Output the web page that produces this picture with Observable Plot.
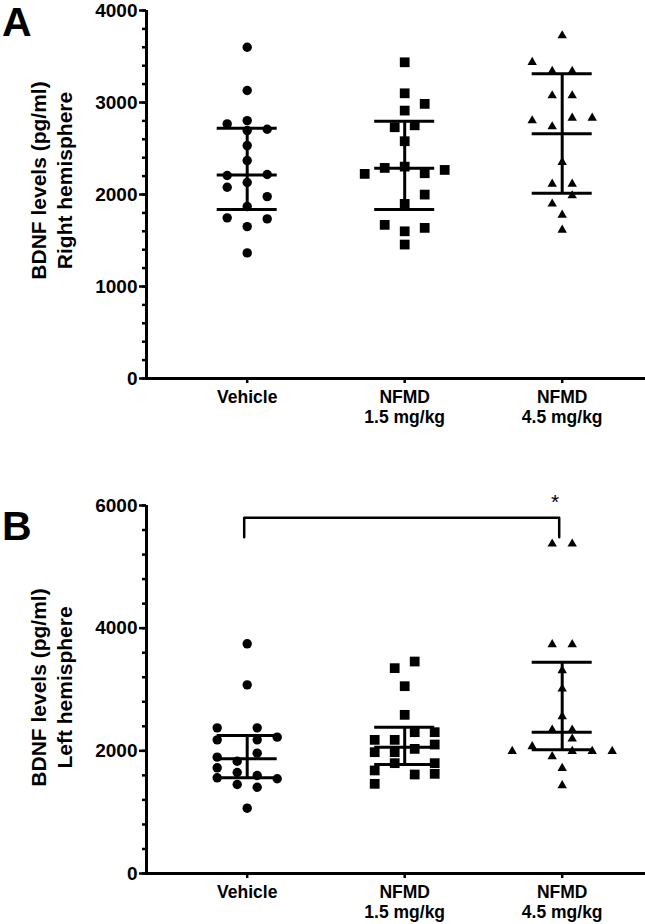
<!DOCTYPE html>
<html>
<head>
<meta charset="utf-8">
<script src="https://cdn.jsdelivr.net/npm/d3@7"></script>
<script src="https://cdn.jsdelivr.net/npm/@observablehq/plot@0.6"></script>
<style>
  body { margin: 0; background: #fff; }
  #wrap { position: relative; width: 645px; height: 924px; }
  .letter { position: absolute; left: 2px; font: bold 41px "Liberation Sans", Arial, sans-serif; line-height: 40px; color: #000; }
  #a, #b { display: block; }
  svg { display: block; }
</style>
</head>
<body>
<div id="wrap">
  <div id="a"></div>
  <div id="b"></div>
  <div class="letter" style="top:2px">A</div>
  <div class="letter" style="top:506px">B</div>
</div>
<script>
// ---------- categories / labels ----------
const groups = ["Vehicle", "NFMD 1.5 mg/kg", "NFMD 4.5 mg/kg"];
const groupLabels = ["Vehicle", "NFMD\n1.5 mg/kg", "NFMD\n4.5 mg/kg"];
const groupSymbols = ["circle", "square", "triangle"];

// ---------- Panel A: right hemisphere (pg/ml) ----------
const rightVehicle = [3600, 3130, 2767, 2803, 2695, 2709, 2532, 2369, 2206, 2217, 2130, 2079, 1977, 1869, 1746, 1735, 1651, 1365];
const rightVehicleLane = [0, 0, -1, 0, 0, 1, 0, 0, -1, 1, 0, -1, 1, 0, -1, 1, 0, 0];
const rightLow = [3437, 3100, 2985, 2912, 2731, 2752, 2579, 2289, 2303, 2224, 2231, 2267, 1999, 1898, 1670, 1600, 1637, 1456];
const rightLowLane = [0, 0, 1, 0, -0.5, 0.5, 0, -1, 0, -2, 1, 2, 1, 0, -1, 0, 1, 0];
const rightHigh = [3727, 3437, 3339, 3339, 3075, 3075, 2803, 2738, 2832, 2832, 2350, 2115, 2115, 1988, 1898, 1778, 1615];
const rightHighLane = [0, -1.5, -0.5, 0.5, -0.5, 0.5, -1.5, -0.5, 0.5, 1.5, 0, -0.5, 0.5, 0.5, -0.5, 0, 0];
const rightMedian = [2213, 2286, 2660];
const rightQ1 = [1837, 1837, 2014];
const rightQ3 = [2721, 2797, 3312];
const rightTicks = [0, 1000, 2000, 3000, 4000];
const rightMinorStep = 200;

// ---------- Panel B: left hemisphere (pg/ml) ----------
const leftVehicle = [3745, 3076, 2375, 2375, 2179, 2179, 2223, 1962, 1897, 1831, 1723, 1646, 1560, 1598, 1544, 1451, 1407, 1065];
const leftVehicleLane = [0, 0, -1.5, 0.5, -1.5, 0.5, 1.5, 0.5, -1.5, -0.5, -1.5, -0.5, -1.5, 0.5, 1.5, -0.5, 0.5, 0];
const leftLow = [3456, 3348, 3054, 2587, 2304, 2304, 2179, 2179, 2032, 2103, 1978, 1978, 1799, 1799, 1680, 1625, 1614, 1462];
const leftLowLane = [0.5, -0.5, 0, 0, 0.5, 1.5, -1.5, -0.5, 0.5, 1.5, -1.5, -0.5, -0.5, 1.5, -1.5, 1.5, 0.5, -1.5];
const leftHigh = [5375, 5375, 3734, 3734, 3309, 3011, 2559, 2342, 2342, 2195, 2071, 1994, 1908, 1994, 1994, 1994, 1717, 1434];
const leftHighLane = [-0.5, 0.5, -0.5, 0.5, 0, 0, 0, -0.5, 0.5, 0.5, -1.5, -2.5, -0.5, 0.5, 1.5, 2.5, 0, 0];
const leftMedian = [1870, 2059, 2304];
const leftQ1 = [1560, 1777, 2016];
const leftQ3 = [2250, 2385, 3445];
const leftTicks = [0, 2000, 4000, 6000];
const leftMinorStep = 400;

// significance bracket (panel B)
const sigFrom = "Vehicle";
const sigTo = "NFMD 4.5 mg/kg";
const sigTop = 5800;
const sigFoot = 5483;
const sigLabel = "*";

// ---------- drawing ----------
const W = 645, ML = 146, MR = 0;
const unitPx = 157.5;           // pixels between group centres
const firstPx = 100.7;          // first group centre from the y axis
const xDomain = [-firstPx / unitPx, (W - ML - MR - firstPx) / unitPx];
const laneUnit = 20 / unitPx;    // one symbol width, in group units
const symbolR = {circle: 4.7, square: 5.5, triangle: 3.5};
const FONT = '"Liberation Sans", Arial, sans-serif';

function panel({values, lanes, median, q1, q3, ticks, minorStep, title, height, marginTop, marginBottom, titleDy, bracket}) {
  const yMax = ticks[ticks.length - 1];
  const rows = values.flatMap((vals, g) => vals.map((v, i) => ({g, v, lane: lanes[g][i]})));
  const summary = groups.map((name, g) => ({g, median: median[g], q1: q1[g], q3: q3[g]}));
  const half = 30 / unitPx;
  const marks = [
    Plot.ruleY([0], {strokeWidth: 3}),
    Plot.ruleX([xDomain[0]], {strokeWidth: 3}),
    Plot.axisY({ticks: d3.range(0, yMax + 1, minorStep), tickSize: 4, strokeWidth: 2.5, tickFormat: () => "", label: null}),
    Plot.axisY({ticks, tickSize: 7, tickPadding: 2, strokeWidth: 2.5, tickFormat: d3.format("d"), fontSize: 19, fontWeight: "bold", label: null}),
    Plot.axisX({ticks: [0, 1, 2], tickSize: 5, tickPadding: 5, strokeWidth: 2.5, tickFormat: i => groupLabels[i], fontSize: 17.5, fontWeight: "bold", lineHeight: 1.15, label: null}),
    ...groups.map((name, g) => Plot.dot(rows.filter(d => d.g === g), {
      x: d => d.g + d.lane * laneUnit, y: "v", symbol: groupSymbols[g], r: symbolR[groupSymbols[g]], fill: "black", stroke: "none"
    })),
    Plot.ruleX(summary, {x: "g", y1: "q1", y2: "q3", strokeWidth: 3}),
    ...["q1", "median", "q3"].map(k => Plot.ruleY(summary, {y: k, x1: d => d.g - half, x2: d => d.g + half, strokeWidth: 3})),
    Plot.text([title], {text: d => d, frameAnchor: "left", textAnchor: "middle", lineAnchor: "middle", rotate: -90, dx: -96, dy: titleDy, fontSize: 21, fontWeight: "bold", lineHeight: 1.25})
  ];
  if (bracket) {
    const a = groups.indexOf(bracket.from), b = groups.indexOf(bracket.to);
    const pts = [{x: a, y: bracket.foot}, {x: a, y: bracket.top}, {x: b, y: bracket.top}, {x: b, y: bracket.foot}];
    marks.push(Plot.line(pts, {x: "x", y: "y", strokeWidth: 2.5, dx: -3}));
    marks.push(Plot.text([bracket], {x: () => b, y: d => d.top, text: d => d.label, dx: -7, dy: -16, fontSize: 21, fontWeight: "normal"}));
  }
  return Plot.plot({
    width: W, height, marginLeft: ML, marginRight: MR, marginTop, marginBottom,
    style: {fontFamily: FONT, color: "black", background: "white", overflow: "visible"},
    x: {type: "linear", domain: xDomain},
    y: {domain: [0, yMax]},
    marks
  });
}

document.getElementById("a").appendChild(panel({
  values: [rightVehicle, rightLow, rightHigh],
  lanes: [rightVehicleLane, rightLowLane, rightHighLane],
  median: rightMedian, q1: rightQ1, q3: rightQ3,
  ticks: rightTicks, minorStep: rightMinorStep,
  title: "BDNF levels (pg/ml)\nRight hemisphere",
  height: 440, marginTop: 10, marginBottom: 62, titleDy: -14
}));

document.getElementById("b").appendChild(panel({
  values: [leftVehicle, leftLow, leftHigh],
  lanes: [leftVehicleLane, leftLowLane, leftHighLane],
  median: leftMedian, q1: leftQ1, q3: leftQ3,
  ticks: leftTicks, minorStep: leftMinorStep,
  title: "BDNF levels (pg/ml)\nLeft hemisphere",
  height: 484, marginTop: 65, marginBottom: 51, titleDy: -2,
  bracket: {from: sigFrom, to: sigTo, top: sigTop, foot: sigFoot, label: sigLabel}
}));
</script>
</body>
</html>
